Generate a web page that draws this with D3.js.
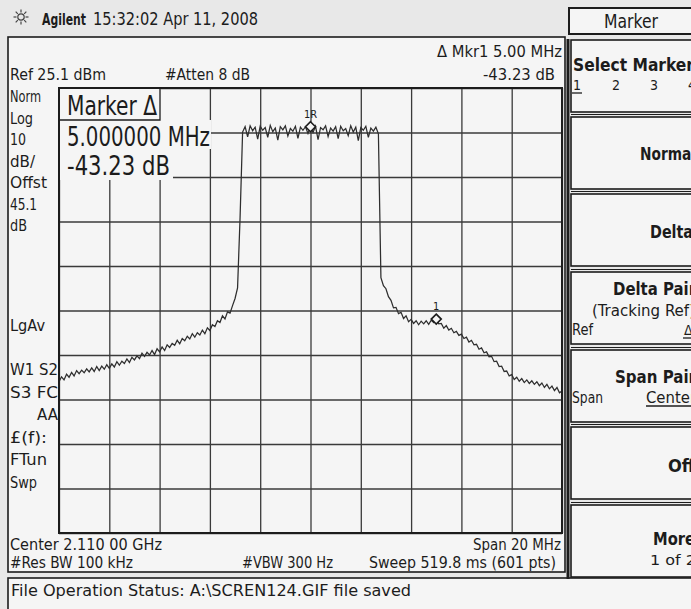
<!DOCTYPE html>
<html lang="en">
<head>
<meta charset="UTF-8">
<script src="https://cdnjs.cloudflare.com/ajax/libs/d3/7.8.5/d3.min.js"></script>
<style>
  body { margin: 0; background: #e8e8e8; }
  svg { display: block; font-family: "DejaVu Sans Condensed", "DejaVu Sans", sans-serif; }
</style>
</head>
<body>
<div id="content"></div>
<script>
// instrument settings
const spanMHz = 20;
const refLevel = 25.1;   // dBm, top of graticule
const dbPerDiv = 10;
const traceStep = 0.1;   // MHz between the points

// trace, dBm
// lower skirt, -10.0 .. -2.8 MHz
const lowerSkirt = [
  -40.9, -39.8, -40.5, -39.2, -39.9, -38.8, -39.6, -38.4, -39.1, -38.3,
  -38.9, -38.0, -38.7, -37.8, -38.6, -37.5, -38.4, -37.4, -38.1, -37.1,
  -37.9, -36.9, -37.6, -36.4, -37.2, -36.3, -36.8, -35.8, -36.6, -35.4,
  -36.0, -35.1, -35.7, -34.5, -35.2, -34.3, -34.9, -33.9, -34.8, -33.5,
  -34.2, -33.1, -33.9, -32.6, -33.2, -32.3, -32.7, -31.6, -32.4, -31.2,
  -31.7, -30.7, -31.3, -30.1, -30.9, -29.9, -30.4, -29.3, -30.1, -28.8,
  -29.4, -28.1, -28.5, -27.2, -27.6, -26.1, -26.8, -25.2, -25.5, -23.8,
  -22.2, -19.8, -4.0
];
// channel top, -2.7 .. 2.7 MHz
const channelTop = [
  15.2, 16.4, 14.1, 16.6, 15.5, 16.3, 13.6, 16.5, 15.6, 16.2,
  14.0, 16.7, 15.3, 16.1, 13.4, 16.4, 15.7, 16.6, 14.3, 16.0,
  15.4, 16.5, 13.8, 16.3, 15.6, 16.4, 14.9, 16.4, 15.1, 16.5,
  13.5, 16.2, 15.7, 16.6, 14.2, 16.1, 15.4, 16.4, 13.7, 16.5,
  15.5, 16.0, 14.4, 16.6, 15.2, 16.3, 13.3, 16.2, 15.6, 16.5,
  14.0, 16.1, 15.4, 16.3, 14.8
];
// upper skirt, 2.8 .. 10.0 MHz
const upperSkirt = [
  -17.5, -19.3, -20.0, -21.8, -22.6, -24.3, -24.2, -25.6, -25.3, -26.7,
  -26.1, -27.4, -26.9, -27.8, -27.2, -28.1, -27.3, -27.9, -27.2, -28.0,
  -27.1, -27.6, -26.83, -27.9, -27.8, -28.9, -28.3, -29.3, -28.9, -29.9,
  -29.6, -30.5, -30.2, -31.2, -30.9, -32.0, -31.6, -32.6, -32.5, -33.6,
  -33.3, -34.4, -34.2, -35.3, -35.2, -36.4, -36.3, -37.5, -37.4, -38.6,
  -38.5, -39.6, -39.3, -40.4, -39.9, -40.8, -40.2, -41.1, -40.5, -41.3,
  -40.7, -41.5, -40.9, -41.8, -41.2, -42.2, -41.5, -42.5, -41.9, -42.9,
  -42.2, -43.4, -43.0
];
const markerNames = ['1R', '1'];
const markerFreqs = [0, 5];          // MHz from centre
const markerLevels = [16.4, -26.83]; // dBm

const leftLabels = ['Norm', 'Log', '10', 'dB/', 'Offst', '45.1', 'dB'];
const statusLabels = ['W1  S2', 'S3  FC', 'AA', '£(f):', 'FTun', 'Swp'];

const width = 691, height = 609;
const gLeft = 59, gRight = 562, gTop = 88, gBottom = 533;
const ink = '#1c1c1c';
const screenFill = '#f5f5f5';

const svg = d3.select('#content').append('svg')
  .attr('width', width).attr('height', height);

function txt(s, x0, y0, o = {}) {
  const t = svg.append('text').attr('x', x0).attr('y', y0).text(s)
    .attr('font-size', o.size || 16).attr('fill', ink);
  if (o.bold) t.attr('font-weight', 'bold');
  if (o.anchor) t.attr('text-anchor', o.anchor);
  if (o.w) t.attr('textLength', o.w).attr('lengthAdjust', 'spacingAndGlyphs');
  return t;
}

//Frames
svg.append('rect').attr('x', 8).attr('y', 37).attr('width', 557).attr('height', 535)
  .attr('fill', screenFill).attr('stroke', ink).attr('stroke-width', 1.6);
svg.append('rect').attr('x', 8).attr('y', 578).attr('width', 700).attr('height', 40)
  .attr('fill', screenFill).attr('stroke', ink).attr('stroke-width', 1.6);
svg.append('rect').attr('x', 569).attr('y', 8).attr('width', 130).attr('height', 26)
  .attr('fill', screenFill).attr('stroke', ink).attr('stroke-width', 2);

//Softkeys
const keyTops = [40, 117, 194, 272, 350, 427, 505];
svg.selectAll('rect.key').data(keyTops).enter().append('rect')
  .attr('class', 'key')
  .attr('x', 571).attr('y', d => d).attr('width', 130).attr('height', 72)
  .attr('fill', screenFill).attr('stroke', ink).attr('stroke-width', 1.6);
svg.selectAll('line.keyedge').data(keyTops.slice(1)).enter().append('line')
  .attr('class', 'keyedge')
  .attr('x1', 571).attr('x2', 691).attr('y1', d => d - 2.5).attr('y2', d => d - 2.5)
  .attr('stroke', ink).attr('stroke-width', 1);
svg.append('line').attr('x1', 568).attr('x2', 568).attr('y1', 39).attr('y2', 579)
  .attr('stroke', ink).attr('stroke-width', 3);

//Scales
const x = d3.scaleLinear().domain([-spanMHz / 2, spanMHz / 2]).range([gLeft, gRight]);
const y = d3.scaleLinear().domain([refLevel - 10 * dbPerDiv, refLevel]).range([gBottom, gTop]);

//Graticule
const gx = svg.append('g').attr('transform', `translate(0,${gBottom})`)
  .call(d3.axisBottom(x).tickValues(d3.range(-10, 10.01, 2)).tickSize(-(gBottom - gTop)).tickFormat(''));
const gy = svg.append('g').attr('transform', `translate(${gLeft},0)`)
  .call(d3.axisLeft(y).tickValues(d3.range(0, 11).map(i => refLevel - i * dbPerDiv)).tickSize(-(gRight - gLeft)).tickFormat(''));
[gx, gy].forEach(g => {
  g.select('.domain').remove();
  g.selectAll('line').attr('stroke', '#3a3a3a').attr('stroke-width', 1.3);
});

//Marker readout boxes hide the grid
[[gLeft + 1, gTop + 1, 101, 31], [gLeft + 1, 120, 151, 29], [gLeft + 1, 149, 113, 31]].forEach(r => {
  svg.append('rect').attr('x', r[0]).attr('y', r[1]).attr('width', r[2]).attr('height', r[3])
    .attr('fill', screenFill);
});
svg.append('path').attr('d', `M${gLeft},120 H160 V${gTop}`).attr('fill', 'none')
  .attr('stroke', ink).attr('stroke-width', 1.3);

//Trace
const levels = lowerSkirt.concat(channelTop, upperSkirt);
const trace = levels.map((v, i) => ({ f: -spanMHz / 2 + i * traceStep, v }));
svg.append('path').datum(trace)
  .attr('fill', 'none').attr('stroke', '#2e2e2e').attr('stroke-width', 1.25)
  .attr('d', d3.line().x(d => x(d.f)).y(d => y(d.v)));

//Markers
const markers = markerNames.map((n, i) => ({ n, f: markerFreqs[i], v: markerLevels[i] }));
svg.selectAll('path.mk').data(markers).enter().append('path')
  .attr('class', 'mk')
  .attr('d', d => { const cx = x(d.f), cy = y(d.v); return `M${cx},${cy - 5}L${cx + 5},${cy}L${cx},${cy + 5}L${cx - 5},${cy}Z`; })
  .attr('fill', screenFill).attr('stroke', ink).attr('stroke-width', 1.6);
svg.selectAll('text.mk').data(markers).enter().append('text')
  .attr('class', 'mk')
  .attr('x', d => x(d.f)).attr('y', d => y(d.v) - 9)
  .attr('text-anchor', 'middle').attr('font-size', 11).attr('fill', ink)
  .text(d => d.n);

//Graticule border
svg.append('rect').attr('x', gLeft).attr('y', gTop).attr('width', gRight - gLeft).attr('height', gBottom - gTop)
  .attr('fill', 'none').attr('stroke', ink).attr('stroke-width', 2);

//Header
const sun = svg.append('g').attr('transform', 'translate(21,17)').attr('stroke', '#444').attr('stroke-width', 1.2);
sun.append('circle').attr('r', 3.2).attr('fill', 'none');
d3.range(8).forEach(k => {
  const a = k * Math.PI / 4;
  sun.append('line').attr('x1', Math.cos(a) * 4.5).attr('y1', Math.sin(a) * 4.5)
    .attr('x2', Math.cos(a) * 7.5).attr('y2', Math.sin(a) * 7.5);
});
// squeeze the bold logo word by scaling so its box really is 44px wide
const logo = svg.append('text').attr('x', 0).attr('y', 0).text('Agilent')
  .attr('font-size', 16).attr('font-weight', 'bold').attr('fill', ink);
const logoLen = logo.node().getComputedTextLength();
logo.attr('transform', `translate(42,25) scale(${44 / logoLen},1)`);
txt('15:32:02  Apr 11, 2008', 93, 25, { size: 17, w: 165 });
txt('Marker', 604, 28, { size: 19, w: 54 });

//Top readouts
txt('\u0394 Mkr1  5.00 MHz', 437, 57, { size: 16, w: 125 });
txt('-43.23 dB', 483, 80, { size: 16, w: 72 });
txt('Ref 25.1 dBm', 10, 80, { size: 16, w: 96 });
txt('#Atten 8 dB', 165, 80, { size: 16, w: 85 });

//Marker readout
txt('Marker \u0394', 67, 115, { size: 26, w: 90 });
txt('5.000000 MHz', 67, 146, { size: 26, w: 143 });
txt('-43.23 dB', 67, 175, { size: 26, w: 103 });

//Left labels
const leftW = [31, 23, 16, 25, 37, 27, 17];
leftLabels.forEach((s, i) => txt(s, 10, 102 + i * 21.5, { size: 16, w: leftW[i] }));
txt('LgAv', 10, 331, { size: 16, w: 35 });
const statW = [48, 48, 21, 37, 37, 27];
statusLabels.forEach((s, i) => {
  if (s === 'AA') txt(s, 58, 375 + i * 22.5, { size: 16, w: statW[i], anchor: 'end' });
  else txt(s, 10, 375 + i * 22.5, { size: 16, w: statW[i] });
});

//Bottom readouts
txt('Center 2.110 00 GHz', 10, 550, { size: 15, w: 152 });
txt('Span 20 MHz', 561, 550, { size: 15, w: 88, anchor: 'end' });
txt('#Res BW 100 kHz', 10, 568, { size: 15, w: 123 });
txt('#VBW 300 Hz', 242, 568, { size: 15, w: 91 });
txt('Sweep 519.8 ms (601 pts)', 369, 568, { size: 15, w: 187 });
txt('File Operation Status: A:\\SCREN124.GIF file saved', 11, 596, { size: 16, w: 400 });

//Softkey labels
txt('Select Marker', 573, 71, { size: 18, bold: true, w: 121 });
[['1', 573], ['2', 612], ['3', 650], ['4', 688]].forEach(d => txt(d[0], d[1], 90, { size: 14 }));
svg.append('line').attr('x1', 572).attr('x2', 582).attr('y1', 93).attr('y2', 93).attr('stroke', ink).attr('stroke-width', 1.3);
txt('Normal', 696, 160, { size: 18, bold: true, w: 56, anchor: 'end' });
txt('Delta', 693, 238, { size: 18, bold: true, w: 43, anchor: 'end' });
txt('Delta Pair', 696, 295, { size: 18, bold: true, w: 83, anchor: 'end' });
txt('(Tracking Ref)', 695, 316, { size: 15, w: 103, anchor: 'end' });
txt('Ref', 572, 335, { size: 15, w: 21 });
txt('\u0394', 684, 335, { size: 14 });
svg.append('line').attr('x1', 683).attr('x2', 692).attr('y1', 338).attr('y2', 338).attr('stroke', ink).attr('stroke-width', 1.3);
txt('Span Pair', 696, 383, { size: 18, bold: true, w: 81, anchor: 'end' });
txt('Span', 572, 403, { size: 15, w: 31 });
txt('Center', 646, 403, { size: 15, w: 50 });
svg.append('line').attr('x1', 646).attr('x2', 691).attr('y1', 406).attr('y2', 406).attr('stroke', ink).attr('stroke-width', 1.3);
txt('Off', 695, 472, { size: 18, bold: true, w: 27, anchor: 'end' });
txt('More', 695, 545, { size: 17, bold: true, w: 42, anchor: 'end' });
txt('1 of 2', 696, 565, { size: 14, w: 46, anchor: 'end' });
</script>
</body>
</html>
